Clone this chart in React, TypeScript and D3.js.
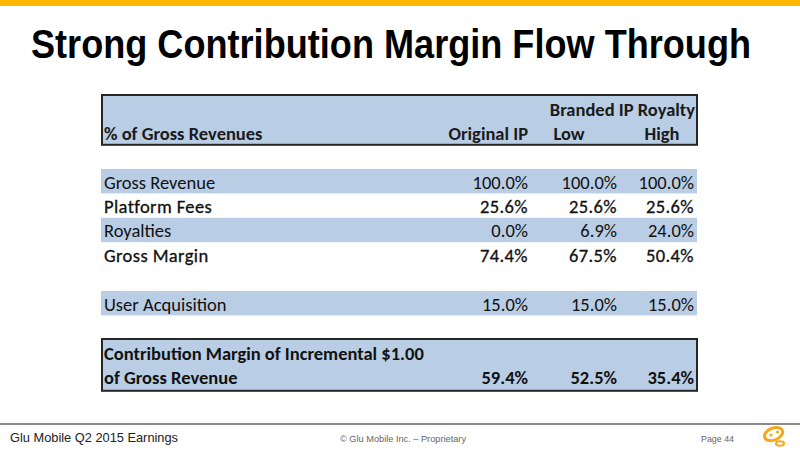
import React, { useLayoutEffect, useRef, useState } from "react";
import * as d3 from "d3";

const titleText = "Strong Contribution Margin Flow Through";
const headerLabel = "% of Gross Revenues";
const groupLabel = "Branded IP Royalty";
const columns = ["Original IP", "Low", "High"];
const rowLabels = ["Gross Revenue", "Platform Fees", "Royalties", "Gross Margin", "User Acquisition"];
const originalIP = [100.0, 25.6, 0.0, 74.4, 15.0];
const brandedLow = [100.0, 25.6, 6.9, 67.5, 15.0];
const brandedHigh = [100.0, 25.6, 24.0, 50.4, 15.0];
const contributionLabel = ["Contribution Margin of Incremental $1.00", "of Gross Revenue"];
const contribution = [59.4, 52.5, 35.4];
const footerLeft = "Glu Mobile Q2 2015 Earnings";
const footerMid = "\u00A9 Glu Mobile Inc. \u2013 Proprietary";
const footerRight = "Page 44";

const W = 800;
const H = 450;
const BLUE = "#B9CDE5";
const ORANGE = "#FFB900";
const TABLE_FONT = "Carlito, Lato, 'Open Sans', sans-serif";
const ARIAL = "'Liberation Sans', Arial, sans-serif";
const shadedRows = ["Gross Revenue", "Royalties", "User Acquisition"];
const emphasisRows = ["Platform Fees", "Gross Margin"];
const GAP = "__gap__";

export default function App() {
  const left = 102;
  const right = 697;
  const rowH = 24.4;
  const seriesByCol = [originalIP, brandedLow, brandedHigh];

  const titleRef = useRef<SVGTextElement>(null);
  const [titleScale, setTitleScale] = useState(0.85);
  useLayoutEffect(() => {
    if (titleRef.current) {
      const w = titleRef.current.getBBox().width;
      if (w > 0) setTitleScale(720 / w);
    }
  }, []);

  const rowKeys = [...rowLabels.slice(0, 4), GAP, ...rowLabels.slice(4)];
  const y = d3.scaleBand<string>().domain(rowKeys).range([169, 169 + rowKeys.length * rowH]).padding(0);
  const colRight = d3.scaleOrdinal<string, number>().domain(columns).range([528, 617, 694]);
  const colCenter = d3.scaleOrdinal<string, number>().domain(columns.slice(1)).range([569, 662]);
  const fmt = (v: number) => d3.format(".1f")(v) + "%";

  const fs = 18.5;
  const headerTop = 95;
  const boxTop = 339;
  const base = 19.5;

  return (
    <svg width={W} height={H} style={{ position: "absolute", left: 0, top: 0, background: "#fff" }}>
      <rect x={0} y={0} width={W} height={6} fill={ORANGE} />
      <g transform={`translate(391,58) scale(${titleScale},1)`}>
        <text
          ref={titleRef}
          x={0}
          y={0}
          textAnchor="middle"
          fontFamily="'Liberation Sans', Arial, sans-serif"
          fontWeight="bold"
          fontSize={41}
          fill="#000"
        >
          {titleText}
        </text>
      </g>

      {/* header box */}
      <rect x={left} y={headerTop} width={right - left} height={2 * rowH + 1} fill={BLUE} stroke="#262626" strokeWidth={2} />
      <text x={695} y={headerTop + base + 1} textAnchor="end" fontFamily={TABLE_FONT} fontWeight="bold" fontSize={fs} fill="#1a1a1a">
        {groupLabel}
      </text>
      <text x={104} y={headerTop + base + 1 + rowH} fontFamily={TABLE_FONT} fontWeight="bold" fontSize={fs} fill="#1a1a1a">
        {headerLabel}
      </text>
      {columns.map((c, i) =>
        i === 0 ? (
          <text key={c} x={colRight(c)} y={headerTop + base + 1 + rowH} textAnchor="end" fontFamily={TABLE_FONT} fontWeight="bold" fontSize={fs} fill="#1a1a1a">
            {c}
          </text>
        ) : (
          <text key={c} x={colCenter(c)} y={headerTop + base + 1 + rowH} textAnchor="middle" fontFamily={TABLE_FONT} fontWeight="bold" fontSize={fs} fill="#1a1a1a">
            {c}
          </text>
        )
      )}

      {/* body rows */}
      {rowLabels.map((label, ri) => {
        const top = y(label) as number;
        const shaded = shadedRows.includes(label);
        const emph = emphasisRows.includes(label);
        const extra = emph ? { stroke: "#111", strokeWidth: 0.3, letterSpacing: 0.4 } : {};
        return (
          <g key={label}>
            {shaded && <rect x={left - 1} y={top} width={right - left + 1} height={y.bandwidth()} fill={BLUE} />}
            <text x={104} y={top + base} fontFamily={TABLE_FONT} fontSize={fs} fill="#111" {...extra}>
              {label}
            </text>
            {columns.map((c, ci) => (
              <text key={c} x={colRight(c)} y={top + base} textAnchor="end" fontFamily={TABLE_FONT} fontSize={fs} fill="#111" {...extra}>
                {fmt(seriesByCol[ci][ri])}
              </text>
            ))}
          </g>
        );
      })}

      {/* contribution box */}
      <rect x={left} y={boxTop} width={right - left} height={2 * rowH + 3} fill={BLUE} stroke="#262626" strokeWidth={2} />
      {contributionLabel.map((t, i) => (
        <text key={t} x={104} y={boxTop + base + 1 + i * rowH} fontFamily={TABLE_FONT} fontWeight="bold" fontSize={fs} fill="#111">
          {t}
        </text>
      ))}
      {columns.map((c, ci) => (
        <text key={c} x={colRight(c)} y={boxTop + base + 1 + rowH} textAnchor="end" fontFamily={TABLE_FONT} fontWeight="bold" fontSize={fs} fill="#111">
          {fmt(contribution[ci])}
        </text>
      ))}

      {/* footer */}
      <line x1={0} x2={W} y1={424} y2={424} stroke="#8c8c8c" strokeWidth={2} />
      <text x={10} y={442} fontFamily={ARIAL} fontSize={13} textLength={168} lengthAdjust="spacingAndGlyphs" fill="#222">
        {footerLeft}
      </text>
      <text x={340} y={442} fontFamily={ARIAL} fontSize={9.5} textLength={126} lengthAdjust="spacingAndGlyphs" fill="#666">
        {footerMid}
      </text>
      <text x={701} y={442} fontFamily={ARIAL} fontSize={9.5} textLength={33} lengthAdjust="spacingAndGlyphs" fill="#666">
        {footerRight}
      </text>
      {/* logo */}
      <g transform="translate(774,435)">
        <ellipse cx={0} cy={-1} rx={9.5} ry={6} transform="rotate(-22)" fill="#fff" stroke="#F4A81D" strokeWidth={3} />
        <circle cx={-3} cy={0} r={1.6} fill="#F4A81D" />
        <circle cx={3.5} cy={-3} r={1.6} fill="#F4A81D" />
        <ellipse cx={6} cy={8.5} rx={4} ry={2.3} fill="#fff" stroke="#F4A81D" strokeWidth={2} />
      </g>
    </svg>
  );
}
